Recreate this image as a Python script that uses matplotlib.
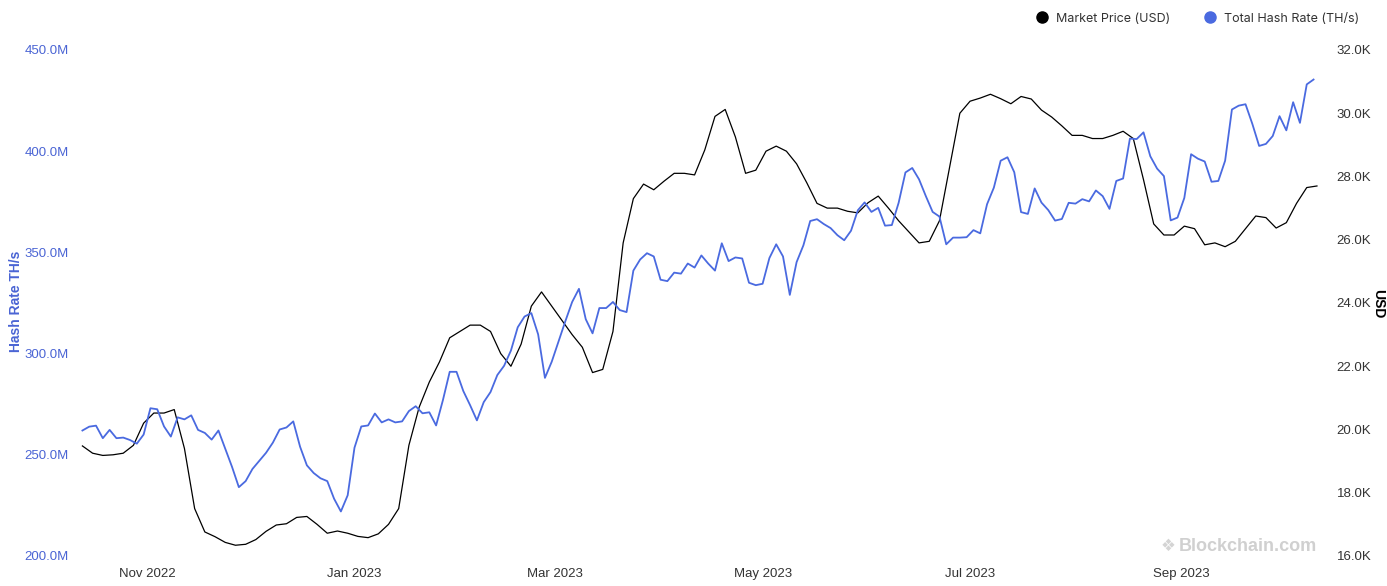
import matplotlib
matplotlib.use("Agg")
import matplotlib.pyplot as plt
import matplotlib.dates as mdates
from matplotlib.ticker import FuncFormatter
from matplotlib.lines import Line2D
import numpy as np
import datetime as dt

# hash rate, every 2 days starting 2022-10-13 (million TH/s)
hash_start = dt.date(2022, 10, 13)
hash_rate = [
    262, 263.9, 264.4, 258.2, 262.3, 258.2, 258.5, 257.3, 255.5, 260,
    273, 272.5, 264, 259, 268.5, 267.5, 269.5, 262.3, 260.8, 257.5,
    262, 253, 244, 234, 237, 243, 247, 251, 256, 262.5,
    263.5, 266.5, 254, 244.8, 241, 238.4, 237, 228.3, 222, 230,
    253.5, 264, 264.5, 270.4, 266, 267.5, 266, 266.5, 271.6, 274,
    270.5, 271, 264.5, 277, 291, 291, 281.5, 274.5, 267, 276,
    281, 289.4, 294, 301.5, 313, 318.3, 320, 309.5, 288, 296,
    306, 316, 325.5, 332, 317, 310, 322.5, 322.5, 325.5, 321.5,
    320.5, 341, 346.5, 349.6, 348, 336.5, 335.8, 340, 339.5, 344.5,
    342.5, 348.5, 344.5, 341, 354.5, 345.7, 347.5, 347, 335, 333.8,
    334.5, 347.2, 354, 348, 329, 345.2, 353.5, 365.5, 366.4, 364,
    362, 358.5, 356, 360.7, 370.8, 374.7, 370, 372, 363.2, 363.5,
    374.5, 389.5, 391.7, 386.1, 377.8, 370, 367.7, 354, 357.3, 357.3,
    357.5, 361, 359.4, 373.8, 382, 395.3, 397, 389.6, 369.9, 369,
    381.6, 374.6, 370.9, 365.7, 366.5, 374.5, 374.1, 376.3, 375.2, 380.6,
    377.8, 371.5, 385.3, 386.5, 406.2, 406, 409.3, 397.5, 391.4, 387.7,
    365.8, 367.2, 376.9, 398.5, 396.3, 394.9, 384.9, 385.3, 395.3, 420.6,
    422.5, 423.2, 413.5, 402.6, 403.6, 407.5, 417.3, 410.3, 424.2, 414,
    433, 435.4,
]

# market price, every 3 days starting 2022-10-13 (thousand USD)
price_start = dt.date(2022, 10, 13)
price = [
    19.48, 19.25, 19.18, 19.2, 19.25, 19.5, 20.2, 20.52, 20.52, 20.63,
    19.4, 17.5, 16.76, 16.61, 16.43, 16.34, 16.37, 16.52, 16.78, 16.98,
    17.02, 17.22, 17.25, 17.0, 16.72, 16.79, 16.72, 16.62, 16.58, 16.7,
    17.0, 17.5, 19.5, 20.7, 21.5, 22.14, 22.9, 23.1, 23.3, 23.3,
    23.1, 22.4, 22.0, 22.7, 23.9, 24.35, 23.9, 23.45, 23.0, 22.6,
    21.8, 21.9, 23.1, 25.9, 27.3, 27.76, 27.58, 27.85, 28.1, 28.1,
    28.05, 28.84, 29.9, 30.12, 29.25, 28.1, 28.2, 28.8, 28.96, 28.8,
    28.4, 27.8, 27.15, 27.0, 27.0, 26.9, 26.85, 27.17, 27.38, 27.0,
    26.6, 26.25, 25.9, 25.95, 26.6, 28.3, 30.0, 30.38, 30.48, 30.6,
    30.46, 30.3, 30.53, 30.45, 30.1, 29.88, 29.6, 29.3, 29.3, 29.2,
    29.2, 29.3, 29.43, 29.2, 27.9, 26.5, 26.15, 26.15, 26.43, 26.35,
    25.84, 25.9, 25.78, 25.95, 26.35, 26.75, 26.7, 26.37, 26.54, 27.15,
    27.65, 27.7,
]

hash_dates = [hash_start + dt.timedelta(days=2 * i) for i in range(len(hash_rate))]
price_dates = [price_start + dt.timedelta(days=3 * i) for i in range(len(price))]

blue = "#4a6ae0"
blue_text = "#4a64d4"
grey_text = "#333333"

fig = plt.figure(figsize=(13.87, 5.86), dpi=100)
ax = fig.add_axes([0.0577, 0.0512, 0.894, 0.8635])
ax2 = ax.twinx()

ax.plot(hash_dates, hash_rate, color=blue, lw=1.3, zorder=3,
        solid_joinstyle="round")
ax2.plot(price_dates, price, color="black", lw=0.9, zorder=2,
         solid_joinstyle="round")
ax.set_zorder(ax2.get_zorder() + 1)
ax.patch.set_visible(False)

ax.set_ylim(200, 450)
ax.set_yticks(np.arange(200, 451, 50))
ax.yaxis.set_major_formatter(FuncFormatter(lambda v, p: f"{v:.1f}M"))
ax2.set_ylim(16, 32)
ax2.set_yticks(np.arange(16, 32.1, 2))
ax2.yaxis.set_major_formatter(FuncFormatter(lambda v, p: f"{v:.1f}K"))

x0 = mdates.date2num(dt.datetime(2022, 11, 1)) - 19.7
x1 = mdates.date2num(dt.datetime(2022, 11, 1)) + 344.9
ax.set_xlim(x0, x1)
ax.xaxis.set_major_locator(mdates.MonthLocator(bymonth=[1, 3, 5, 7, 9, 11]))
ax.xaxis.set_major_formatter(mdates.DateFormatter("%b %Y"))

for a in (ax, ax2):
    for s in a.spines.values():
        s.set_visible(False)
    a.tick_params(length=0)

ax.tick_params(axis="y", colors=blue_text, labelsize=9.5, pad=8)
ax.tick_params(axis="x", colors=grey_text, labelsize=9.5, pad=9)
ax2.tick_params(axis="y", colors=grey_text, labelsize=9.5, pad=12)
for lab in ax.get_yticklabels() + ax.get_xticklabels() + ax2.get_yticklabels():
    lab.set_fontfamily("Liberation Sans")

fig.text(0.0115, 0.486, "Hash Rate TH/s", rotation=90, color=blue_text,
         fontsize=10, fontweight="bold", family="Liberation Sans",
         ha="center", va="center")
fig.text(0.9935, 0.481, "USD", rotation=-90, color="black",
         fontsize=10, fontweight="bold", family="Liberation Sans",
         ha="center", va="center")

# watermark
fig.text(0.8425, 0.068, "\u2756", color="#d4d4d4", fontsize=12,
         family="DejaVu Sans", ha="center", va="center")
fig.text(0.9, 0.068, "Blockchain.com", color="#d0d0d0", fontsize=13,
         fontweight="bold", family="Liberation Sans", ha="center", va="center")

handles = [
    Line2D([], [], marker="o", ls="", color="black", markersize=8),
    Line2D([], [], marker="o", ls="", color=blue, markersize=8),
]
fig.legend(handles, ["Market Price (USD)", "Total Hash Rate (TH/s)"],
           loc="center right", bbox_to_anchor=(0.988, 0.968), ncol=2,
           frameon=False, handletextpad=0.1, columnspacing=2.2,
           prop={"family": "Inter", "size": 9}, labelcolor="#333333")

fig.savefig("out.png", dpi=100, facecolor="white")
